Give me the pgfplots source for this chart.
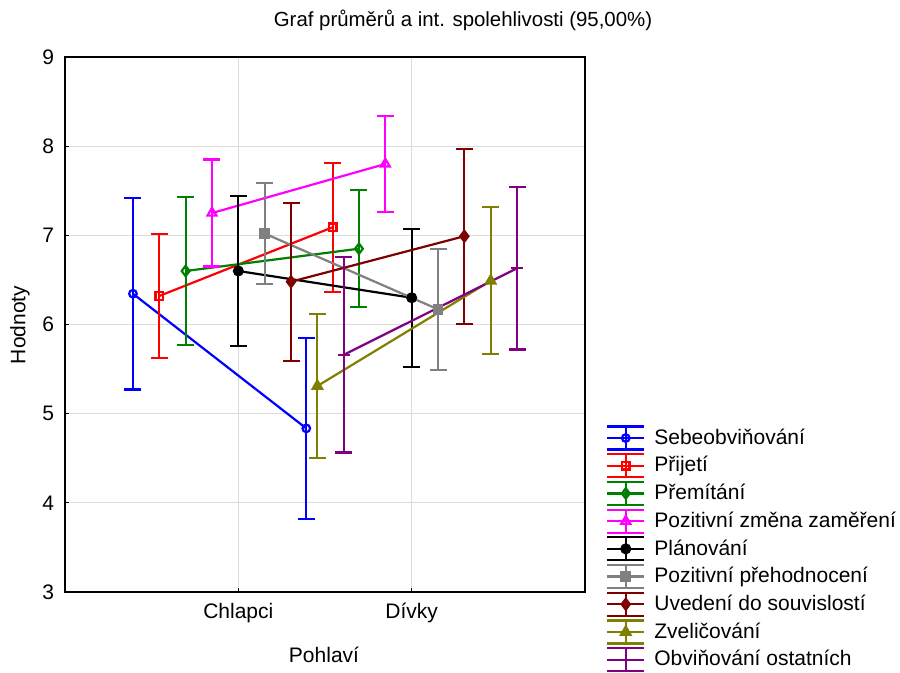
\documentclass[border=0pt]{standalone}
\usepackage{fontspec}
\setmainfont{Liberation Sans}
\usepackage{pgfplots}
\pgfplotsset{compat=1.18}
\definecolor{cgreen}{RGB}{0,128,0}
\definecolor{cgray}{RGB}{128,128,128}
\definecolor{cdred}{RGB}{128,0,0}
\definecolor{colive}{RGB}{128,128,0}
\definecolor{cpurple}{RGB}{128,0,128}
\definecolor{cmag}{RGB}{255,0,255}
\definecolor{cblue}{RGB}{0,0,255}
\definecolor{cred}{RGB}{255,0,0}
\definecolor{cgrid}{RGB}{220,220,220}
\begin{document}
\begin{tikzpicture}
\path[use as bounding box] (0pt,0pt) rectangle (450pt,336.5pt);
\begin{axis}[
  at={(32.5pt,40.5pt)}, anchor=south west,
  scale only axis, width=260pt, height=267.5pt,
  xmin=0, xmax=3, ymin=3, ymax=9,
  xtick={1,2}, xticklabels={Chlapci,Dívky},
  ytick={3,4,5,6,7,8,9},
  tick pos=left, tick align=inside, major tick length=2pt,
  grid=major, grid style={cgrid, line width=0.5pt},
  axis line style={line width=0.9pt},
  every tick/.style={black, line width=0.5pt},
  tick label style={font=\fontsize{10.5}{12.5}\selectfont},
  /pgf/number format/assume math mode=true,
  yticklabel style={xshift=-2pt},
  xticklabel style={yshift=-2pt},
  clip=false,
  every axis plot/.append style={line width=1.1pt,
    error bars/y dir=both, error bars/y explicit, error bars/error mark=-,
    error bars/error bar style={line width=1.1pt},
    error bars/error mark options={rotate=90, line width=1.1pt, mark size=4.25pt}},
  legend style={at={(1.0284,0.3195)}, anchor=north west, draw=none, fill=none,
    font=\fontsize{10.5}{12.5}\selectfont, row sep=1.25pt,
    nodes={inner sep=1pt}},
  legend cell align=left,
  legend image code/.code={
    \draw[#1,mark=none,line width=1.1pt] (0pt,5.75pt) -- (18.5pt,5.75pt)
      (0pt,0pt) -- (18.5pt,0pt) (0pt,-5.75pt) -- (18.5pt,-5.75pt)
      (9.25pt,-5.75pt) -- (9.25pt,5.75pt);
    \draw[#1,only marks] plot coordinates {(9.25pt,0pt)};
    \path (22pt,0pt);
  },
]
\addplot[cblue, mark=o, mark size=1.9pt, mark options={solid, fill=white}] coordinates {(0.392,6.345) +- (0,1.075) (1.392,4.835) +- (0,1.015)};
\addlegendentry{Sebeobviňování}
\addplot[cred, mark=square, mark size=1.9pt, mark options={solid, fill=white}] coordinates {(0.544,6.32) +- (0,0.695) (1.544,7.09) +- (0,0.725)};
\addlegendentry{Přijetí}
\addplot[cgreen, mark=diamond, mark size=2.6pt, mark options={solid, fill=white}] coordinates {(0.696,6.60) +- (0,0.83) (1.696,6.85) +- (0,0.655)};
\addlegendentry{Přemítání}
\addplot[cmag, mark=triangle, mark size=2.6pt, mark options={solid, fill=white}] coordinates {(0.848,7.25) +- (0,0.60) (1.848,7.80) +- (0,0.54)};
\addlegendentry{Pozitivní změna zaměření}
\addplot[black, mark=*, mark size=2.2pt] coordinates {(1.0,6.60) +- (0,0.845) (2.0,6.30) +- (0,0.775)};
\addlegendentry{Plánování}
\addplot[cgray, mark=square*, mark size=2.1pt] coordinates {(1.152,7.02) +- (0,0.565) (2.152,6.17) +- (0,0.68)};
\addlegendentry{Pozitivní přehodnocení}
\addplot[cdred, mark=diamond*, mark size=2.7pt] coordinates {(1.304,6.48) +- (0,0.885) (2.304,6.99) +- (0,0.98)};
\addlegendentry{Uvedení do souvislostí}
\addplot[colive, mark=triangle*, mark size=2.7pt] coordinates {(1.456,5.31) +- (0,0.805) (2.456,6.49) +- (0,0.825)};
\addlegendentry{Zveličování}
\addplot[cpurple, mark=-, mark size=3pt] coordinates {(1.608,5.66) +- (0,1.095) (2.608,6.63) +- (0,0.91)};
\addlegendentry{Obviňování ostatních}
\end{axis}
\node[font=\fontsize{10.2}{12}\selectfont] at (231.5pt,326.5pt) {Graf průměrů a int. spolehlivosti (95,00\%)};
\node[font=\fontsize{10.5}{12.5}\selectfont] at (162pt,9pt) {Pohlaví};
\node[font=\fontsize{10.5}{12.5}\selectfont, rotate=90] at (10pt,174pt) {Hodnoty};
\end{tikzpicture}
\end{document}
